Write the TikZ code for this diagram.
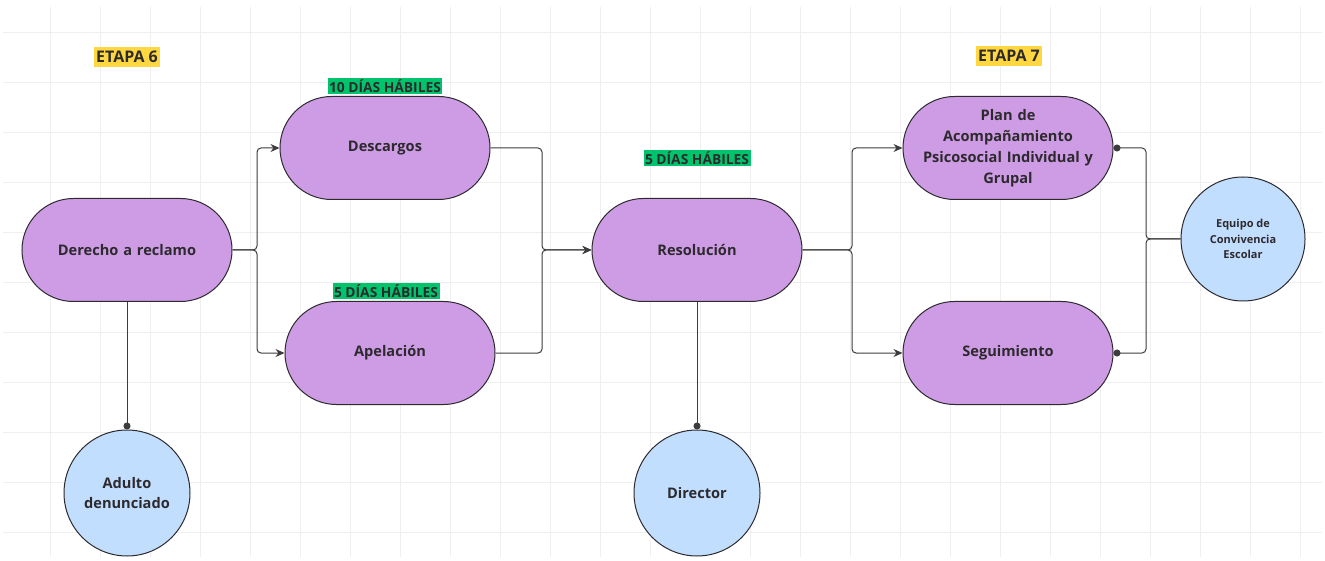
\documentclass[tikz,border=0pt]{standalone}
\usepackage{fontspec}
\setmainfont{Open Sans}
\usetikzlibrary{arrows.meta}
\definecolor{purp}{HTML}{CE9BE5}
\definecolor{lblue}{HTML}{C2DEFF}
\definecolor{grn}{HTML}{00C46C}
\definecolor{yel}{HTML}{FFD740}
\definecolor{ink}{HTML}{2D2A2E}
\definecolor{gridc}{HTML}{EFEFEF}
\definecolor{linec}{HTML}{3C3C3C}
\tikzset{
  stadium/.style={draw=ink, line width=1pt, fill=purp, rounded corners=51.5pt,
    minimum width=210pt, minimum height=103pt, text width=200pt, align=center,
    font=\fontsize{14.6}{21}\selectfont\bfseries, text=ink, inner sep=0pt},
  actor/.style={draw=ink, line width=1pt, fill=lblue, circle, minimum size=126pt,
    align=center, font=\fontsize{14.6}{20}\selectfont\bfseries, text=ink, inner sep=0pt},
  badge/.style={fill=grn, inner xsep=1.5pt, inner ysep=2pt, font=\fontsize{13.8}{14}\selectfont\bfseries, text=ink},
  stage/.style={fill=yel, inner xsep=2pt, inner ysep=4.5pt, font=\fontsize{16}{16}\selectfont\bfseries, text=ink},
  conn/.style={draw=linec, line width=1pt, rounded corners=4pt},
  arr/.style={conn, -{Stealth[length=9pt,width=8pt]}},
  dotted end/.style={conn, {Circle[length=7pt]}-},
  dotted start/.style={conn, -{Circle[length=7pt]}}
}
\begin{document}
\begin{tikzpicture}[x=1pt,y=-1pt]
\useasboundingbox (0,0) rectangle (1325,561);
\fill[white] (0,0) rectangle (1325,561);
% grid
\foreach \gx in {50,100,...,1300} \draw[gridc, line width=0.8pt] (\gx,7) -- (\gx,557);
\foreach \gy in {32,82,...,532} \draw[gridc, line width=0.8pt] (3,\gy) -- (1322,\gy);

% stage labels
\node[stage] (e6) at (127,57) {ETAPA 6};
\node[stage] (e7) at (1009,56) {ETAPA 7};

% process nodes
\node[stadium] (der) at (127,250) {Derecho a reclamo};
\node[stadium] (desc) at (385,148) {Descargos};
\node[stadium] (apel) at (390,353) {Apelación};
\node[stadium] (res) at (697,250) {Resolución};
\node[stadium] (plan) at (1008,148) {Plan de\\Acompañamiento\\Psicosocial Individual y\\Grupal};
\node[stadium] (seg) at (1008,353) {Seguimiento};

% badges
\node[badge] (b10) at (385,86) {10 DÍAS HÁBILES};
\node[badge] (b5a) at (386,291) {5 DÍAS HÁBILES};
\node[badge] (b5r) at (697,158) {5 DÍAS HÁBILES};

% actors
\node[actor] (adu) at (127,493) {Adulto\\denunciado};
\node[actor] (dir) at (697,493) {Director};
\node[actor, minimum size=124pt, font=\fontsize{11}{15.5}\selectfont\bfseries] (equ) at (1243,239) {Equipo de\\Convivencia\\Escolar};

% junction coordinates
\coordinate (j1) at (257,250);
\coordinate (j2) at (542,250);
\coordinate (j3) at (852,250);
\coordinate (j4) at (1146,239);

% connectors
\draw[arr] (der.east) -- (j1) |- (desc.west);
\draw[arr] (der.east) -- (j1) |- (apel.west);
\draw[arr] (desc.east) -| (j2) -- (res.west);
\draw[arr] (apel.east) -| (j2) -- (res.west);
\draw[arr] (res.east) -- (j3) |- (plan.west);
\draw[arr] (res.east) -- (j3) |- (seg.west);
\draw[dotted end] (plan.east) -| (j4) -- (equ.west);
\draw[dotted end] (seg.east) -| (j4) -- (equ.west);
\draw[dotted start] (der.south) -- (adu.north);
\draw[dotted start] (res.south) -- (dir.north);
\end{tikzpicture}
\end{document}
